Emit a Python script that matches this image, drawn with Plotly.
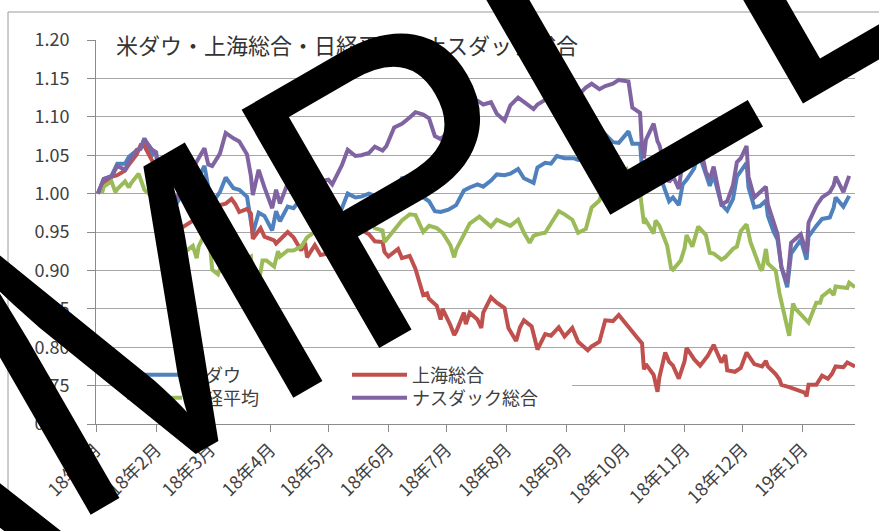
import plotly.graph_objects as go

# ---------------- data (index, first trading day = 1.00) ----------------
us_dates = ["2018-01-02","2018-01-05","2018-01-09","2018-01-12","2018-01-16","2018-01-18","2018-01-22","2018-01-24",
            "2018-01-26","2018-01-30","2018-02-01","2018-02-02","2018-02-05","2018-02-06","2018-02-08","2018-02-09",
            "2018-02-13","2018-02-16","2018-02-20","2018-02-23","2018-02-26","2018-02-28","2018-03-02","2018-03-06",
            "2018-03-09","2018-03-13","2018-03-16","2018-03-20","2018-03-22","2018-03-23","2018-03-26","2018-03-29",
            "2018-04-02","2018-04-04","2018-04-06","2018-04-10","2018-04-13","2018-04-18","2018-04-20","2018-04-24",
            "2018-04-27","2018-05-01","2018-05-03","2018-05-08","2018-05-11","2018-05-15","2018-05-18","2018-05-22",
            "2018-05-25","2018-05-29","2018-05-31","2018-06-04","2018-06-08","2018-06-12","2018-06-15","2018-06-19",
            "2018-06-22","2018-06-25","2018-06-28","2018-07-02","2018-07-06","2018-07-10","2018-07-13","2018-07-17",
            "2018-07-20","2018-07-24","2018-07-27","2018-07-31","2018-08-03","2018-08-07","2018-08-10","2018-08-15",
            "2018-08-17","2018-08-21","2018-08-24","2018-08-27","2018-08-31","2018-09-05","2018-09-07","2018-09-11",
            "2018-09-14","2018-09-18","2018-09-21","2018-09-25","2018-09-28","2018-10-03","2018-10-05","2018-10-09",
            "2018-10-10","2018-10-11","2018-10-12","2018-10-16","2018-10-18","2018-10-19","2018-10-24","2018-10-26",
            "2018-10-29","2018-10-31","2018-11-02","2018-11-06","2018-11-08","2018-11-12","2018-11-14","2018-11-16",
            "2018-11-20","2018-11-23","2018-11-26","2018-11-28","2018-11-30","2018-12-03","2018-12-04","2018-12-07",
            "2018-12-10","2018-12-13","2018-12-14","2018-12-17","2018-12-19","2018-12-21","2018-12-24","2018-12-26",
            "2018-12-28","2018-12-31","2019-01-03","2019-01-04","2019-01-08","2019-01-11","2019-01-15","2019-01-17",
            "2019-01-18","2019-01-22","2019-01-25"]

dow_vals = [1.000,1.019,1.023,1.039,1.039,1.048,1.056,1.058,
            1.072,1.050,1.055,1.028,0.981,1.004,0.961,0.975,
            0.993,1.016,1.006,1.020,1.036,1.008,0.988,1.002,
            1.021,1.007,1.005,0.996,0.965,0.948,0.975,0.971,
            0.952,0.977,0.964,0.983,0.981,0.997,0.985,0.968,
            0.979,0.971,0.964,0.981,1.000,0.995,0.996,1.000,
            0.997,0.981,0.984,1.000,1.020,1.020,1.011,0.995,
            0.990,0.977,0.976,0.979,0.985,1.004,1.008,1.012,
            1.009,1.017,1.025,1.024,1.026,1.032,1.020,1.014,
            1.034,1.040,1.039,1.049,1.046,1.046,1.044,1.046,
            1.054,1.057,1.077,1.067,1.066,1.081,1.065,1.065,
            1.031,1.009,1.021,1.039,1.022,1.025,0.990,0.995,
            0.985,1.012,1.018,1.033,1.055,1.023,1.010,1.024,
            0.986,0.978,0.993,1.022,1.029,1.040,1.008,0.982,
            0.984,0.991,0.971,0.950,0.940,0.904,0.878,0.922,
            0.929,0.940,0.914,0.944,0.958,0.967,0.969,0.982,
            0.995,0.983,0.997]

nasdaq_vals = [1.000,1.019,1.022,1.036,1.031,1.041,1.057,1.059,
               1.071,1.057,1.054,1.034,0.995,1.016,0.967,0.981,
               1.001,1.033,1.033,1.047,1.059,1.038,1.036,1.052,
               1.079,1.072,1.068,1.051,1.023,0.998,1.031,1.008,
               0.981,1.005,0.987,1.013,1.014,1.041,1.020,1.000,
               1.016,1.018,1.012,1.037,1.057,1.049,1.050,1.053,
               1.061,1.056,1.062,1.086,1.091,1.099,1.106,1.103,
               1.098,1.075,1.071,1.080,1.097,1.107,1.117,1.121,
               1.116,1.119,1.104,1.095,1.115,1.125,1.119,1.110,
               1.116,1.122,1.134,1.144,1.158,1.141,1.128,1.138,
               1.143,1.136,1.140,1.143,1.148,1.146,1.112,1.105,
               1.059,1.046,1.070,1.091,1.068,1.063,1.015,1.023,
               1.006,1.043,1.050,1.053,1.075,1.028,1.019,1.035,
               0.986,0.990,1.011,1.041,1.046,1.062,1.022,0.995,
               1.002,1.009,0.986,0.964,0.947,0.904,0.884,0.936,
               0.940,0.947,0.922,0.962,0.984,0.995,1.002,1.011,
               1.022,1.002,1.023]

sh_dates = ["2018-01-02","2018-01-05","2018-01-09","2018-01-12","2018-01-16","2018-01-18","2018-01-22","2018-01-24",
            "2018-01-26","2018-01-29","2018-01-31","2018-02-02","2018-02-06","2018-02-08","2018-02-09","2018-02-12",
            "2018-02-14","2018-02-22","2018-02-23","2018-02-27","2018-03-01","2018-03-02","2018-03-06","2018-03-09",
            "2018-03-12","2018-03-14","2018-03-16","2018-03-20","2018-03-22","2018-03-23","2018-03-27","2018-03-29",
            "2018-04-03","2018-04-04","2018-04-10","2018-04-13","2018-04-17","2018-04-19","2018-04-20","2018-04-24",
            "2018-04-27","2018-05-03","2018-05-08","2018-05-11","2018-05-15","2018-05-18","2018-05-22","2018-05-25",
            "2018-05-29","2018-05-30","2018-06-01","2018-06-06","2018-06-08","2018-06-12","2018-06-15","2018-06-19",
            "2018-06-21","2018-06-22","2018-06-26","2018-06-28","2018-06-29","2018-07-03","2018-07-05","2018-07-06",
            "2018-07-10","2018-07-11","2018-07-13","2018-07-17","2018-07-19","2018-07-20","2018-07-24","2018-07-27",
            "2018-07-31","2018-08-02","2018-08-06","2018-08-08","2018-08-10","2018-08-14","2018-08-17","2018-08-21",
            "2018-08-24","2018-08-28","2018-08-31","2018-09-04","2018-09-07","2018-09-12","2018-09-14","2018-09-18",
            "2018-09-21","2018-09-25","2018-09-28","2018-10-08","2018-10-10","2018-10-11","2018-10-12","2018-10-16",
            "2018-10-18","2018-10-19","2018-10-22","2018-10-24","2018-10-26","2018-10-29","2018-11-01","2018-11-02",
            "2018-11-06","2018-11-09","2018-11-13","2018-11-16","2018-11-20","2018-11-22","2018-11-23","2018-11-27",
            "2018-11-30","2018-12-03","2018-12-05","2018-12-07","2018-12-11","2018-12-13","2018-12-14","2018-12-18",
            "2018-12-20","2018-12-21","2018-12-25","2018-12-28","2019-01-02","2019-01-03","2019-01-04","2019-01-08",
            "2019-01-10","2019-01-11","2019-01-14","2019-01-16","2019-01-18","2019-01-22","2019-01-24","2019-01-28"]

sh_vals = [1.000,1.013,1.022,1.024,1.030,1.038,1.051,1.063,
           1.062,1.047,1.038,1.034,0.984,0.965,0.934,0.946,
           0.955,0.968,0.982,0.985,0.983,0.977,0.985,0.987,
           0.993,0.986,0.976,0.980,0.974,0.941,0.955,0.944,
           0.939,0.935,0.950,0.943,0.926,0.936,0.917,0.933,
           0.920,0.923,0.940,0.944,0.952,0.953,0.947,0.938,
           0.937,0.924,0.918,0.928,0.916,0.919,0.902,0.868,
           0.870,0.863,0.854,0.836,0.850,0.829,0.816,0.820,
           0.845,0.830,0.845,0.836,0.825,0.845,0.865,0.858,
           0.851,0.825,0.808,0.826,0.835,0.827,0.797,0.817,
           0.815,0.826,0.814,0.825,0.807,0.796,0.801,0.807,
           0.835,0.834,0.842,0.811,0.805,0.771,0.778,0.764,
           0.742,0.761,0.793,0.781,0.776,0.759,0.782,0.799,
           0.784,0.776,0.789,0.803,0.780,0.790,0.770,0.768,
           0.773,0.793,0.786,0.778,0.775,0.782,0.775,0.765,
           0.758,0.751,0.748,0.745,0.741,0.736,0.751,0.751,
           0.758,0.763,0.759,0.765,0.775,0.774,0.780,0.775]

nk_dates = ["2018-01-04","2018-01-05","2018-01-09","2018-01-11","2018-01-12","2018-01-16","2018-01-18","2018-01-19",
            "2018-01-23","2018-01-25","2018-01-26","2018-01-30","2018-02-01","2018-02-02","2018-02-05","2018-02-06",
            "2018-02-08","2018-02-09","2018-02-13","2018-02-14","2018-02-16","2018-02-20","2018-02-22","2018-02-23",
            "2018-02-27","2018-03-01","2018-03-02","2018-03-05","2018-03-07","2018-03-09","2018-03-13","2018-03-16",
            "2018-03-20","2018-03-22","2018-03-23","2018-03-26","2018-03-28","2018-03-30","2018-04-03","2018-04-05",
            "2018-04-06","2018-04-10","2018-04-13","2018-04-17","2018-04-20","2018-04-24","2018-04-27","2018-05-01",
            "2018-05-07","2018-05-11","2018-05-15","2018-05-18","2018-05-21","2018-05-25","2018-05-29","2018-05-30",
            "2018-06-01","2018-06-05","2018-06-08","2018-06-12","2018-06-15","2018-06-19","2018-06-22","2018-06-26",
            "2018-06-29","2018-07-03","2018-07-05","2018-07-06","2018-07-10","2018-07-13","2018-07-18","2018-07-20",
            "2018-07-24","2018-07-27","2018-07-31","2018-08-03","2018-08-07","2018-08-10","2018-08-13","2018-08-15",
            "2018-08-17","2018-08-21","2018-08-24","2018-08-28","2018-08-31","2018-09-04","2018-09-07","2018-09-11",
            "2018-09-14","2018-09-18","2018-09-21","2018-09-25","2018-09-28","2018-10-02","2018-10-05","2018-10-09",
            "2018-10-11","2018-10-12","2018-10-16","2018-10-17","2018-10-19","2018-10-23","2018-10-25","2018-10-26",
            "2018-10-30","2018-11-01","2018-11-02","2018-11-05","2018-11-08","2018-11-12","2018-11-14","2018-11-16",
            "2018-11-20","2018-11-22","2018-11-26","2018-11-28","2018-11-30","2018-12-03","2018-12-05","2018-12-07",
            "2018-12-10","2018-12-11","2018-12-13","2018-12-14","2018-12-18","2018-12-20","2018-12-21","2018-12-25",
            "2018-12-27","2018-12-28","2019-01-04","2019-01-08","2019-01-10","2019-01-11","2019-01-15","2019-01-17",
            "2019-01-18","2019-01-22","2019-01-24","2019-01-25","2019-01-28"]

nk_vals = [1.000,1.009,1.016,1.002,1.006,1.016,1.008,1.013,
           1.026,1.010,1.005,0.996,1.005,0.990,0.964,0.919,
           0.937,0.910,0.905,0.900,0.924,0.932,0.916,0.931,
           0.952,0.930,0.901,0.895,0.908,0.913,0.935,0.922,
           0.915,0.918,0.877,0.883,0.913,0.913,0.905,0.925,
           0.918,0.926,0.926,0.931,0.943,0.950,0.956,0.958,
           0.958,0.968,0.973,0.975,0.979,0.955,0.952,0.937,
           0.943,0.956,0.965,0.973,0.972,0.950,0.958,0.955,
           0.949,0.933,0.917,0.927,0.947,0.961,0.970,0.966,
           0.957,0.966,0.961,0.958,0.966,0.949,0.936,0.945,
           0.947,0.949,0.961,0.977,0.973,0.966,0.949,0.954,
           0.982,0.991,1.015,1.019,1.026,1.032,1.012,1.001,
           0.961,0.965,0.948,0.965,0.958,0.932,0.903,0.901,
           0.913,0.929,0.946,0.931,0.957,0.946,0.923,0.922,
           0.914,0.917,0.928,0.931,0.951,0.960,0.937,0.922,
           0.903,0.900,0.928,0.909,0.900,0.870,0.858,0.815,
           0.857,0.851,0.832,0.858,0.858,0.866,0.874,0.868,
           0.879,0.878,0.877,0.884,0.878]

series_names = ["米ダウ", "上海総合", "日経平均", "ナスダック総合"]
series_colors = ["#4F81BD", "#C0504D", "#9BBB59", "#8064A2"]
chart_title = "米ダウ・上海総合・日経平均・ナスダック総合"
watermark = "SAMPLE"

JP = "Noto Sans CJK JP"
TXT = "#404040"
GRID = "#a6a6a6"

# px -> paper helpers (plot area: x 96..855, y 40..424)
def px(x):
    return (x - 96) / 759.0

def py(y):
    return (424 - y) / 384.0

fig = go.Figure()
data = [(us_dates, dow_vals, "legend"), (sh_dates, sh_vals, "legend"),
        (nk_dates, nk_vals, "legend2"), (us_dates, nasdaq_vals, "legend2")]
for (xs, ys, lg), name, col in zip(data, series_names, series_colors):
    fig.add_trace(go.Scatter(x=xs, y=ys, name=name, mode="lines", legend=lg,
                             line=dict(color=col, width=4), hoverinfo="skip"))

legend_common = dict(orientation="h", xanchor="left", yanchor="middle",
                     entrywidth=155, entrywidthmode="pixels", itemwidth=55,
                     borderwidth=0, tracegroupgap=0,
                     font=dict(family=JP, size=18, color=TXT))

fig.update_layout(
    width=879, height=531,
    margin=dict(l=96, r=24, t=40, b=107),
    paper_bgcolor="white", plot_bgcolor="white",
    font=dict(family=JP, color=TXT),
    showlegend=True,
    legend=dict(x=px(122), y=py(375), bgcolor="white", **legend_common),
    legend2=dict(x=px(122), y=py(398), bgcolor="rgba(255,255,255,0)", **legend_common),
    xaxis=dict(type="date", range=["2018-01-01", "2019-01-28"],
               tick0="2018-01-01", dtick="M1", tickformat="%y年%-m月",
               tickangle=-45, ticks="outside", ticklen=7, tickcolor="#8c8c8c",
               showline=True, linecolor="#8c8c8c", linewidth=1, showgrid=False,
               zeroline=False, tickfont=dict(family=JP, size=18, color=TXT)),
    yaxis=dict(range=[0.70, 1.20], dtick=0.05, tick0=0.70, tickformat=".2f",
               ticks="outside", ticklen=8, tickcolor="#8c8c8c",
               showline=True, linecolor="#8c8c8c", linewidth=1,
               showgrid=True, gridcolor=GRID, gridwidth=1, zeroline=False,
               ticklabelstandoff=14,
               tickfont=dict(family=JP, size=18, color=TXT)),
)

# chart-area border and extended top gridline
fig.add_shape(type="rect", xref="paper", yref="paper", x0=px(8), x1=px(900),
              y0=py(560), y1=py(12), line=dict(color="#9a9a9a", width=1), layer="below")
fig.add_shape(type="line", xref="paper", yref="y", x0=1.0, x1=px(880), y0=1.20, y1=1.20,
              line=dict(color=GRID, width=1), layer="below")

# title inside the plot, with white box
fig.add_annotation(text=chart_title, xref="paper", yref="paper", x=px(110), y=py(44),
                   xanchor="left", yanchor="middle", showarrow=False,
                   bgcolor="white", borderpad=5,
                   font=dict(family=JP, size=22, color="#333333"))

# watermark
fig.add_annotation(text=watermark, xref="paper", yref="paper", x=px(233), y=py(272),
                   xanchor="center", yanchor="middle", showarrow=False, textangle=-30,
                   font=dict(family="Liberation Sans", size=400, color="black"))

fig.write_html("out.html")
